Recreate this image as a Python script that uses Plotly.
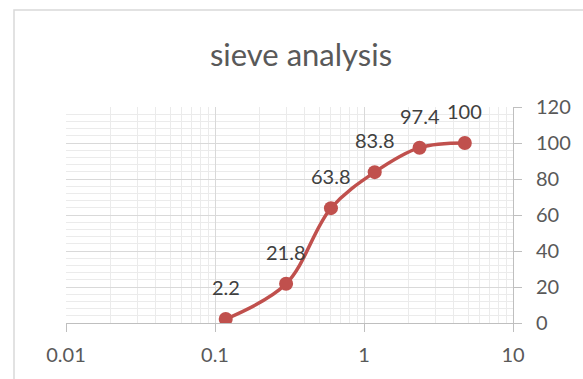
import math
import plotly.graph_objects as go

# Sieve analysis: particle size (mm) vs. percent passing
sieve_size_mm = [0.118, 0.3, 0.6, 1.18, 2.36, 4.75]
percent_passing = [2.2, 21.8, 63.8, 83.8, 97.4, 100]

x_tick_vals = [0.01, 0.1, 1, 10]
x_tick_text = ["0.01", "0.1", "1", "10"]
y_tick_vals = [0, 20, 40, 60, 80, 100, 120]

LINE_RED = "#C0504D"
TEXT_GRAY = "#595959"
FONT = "Lato, 'Open Sans', sans-serif"

fig = go.Figure()
fig.add_trace(go.Scatter(
    x=sieve_size_mm,
    y=percent_passing,
    mode="lines+markers",
    line=dict(color=LINE_RED, width=3.5, shape="spline", smoothing=1.0),
    marker=dict(color=LINE_RED, size=14),
    hoverinfo="x+y",
    showlegend=False,
))

# value labels above each point (annotations on a log axis take log10 x)
for xv, yv in zip(sieve_size_mm, percent_passing):
    fig.add_annotation(
        x=math.log10(xv), y=yv, xref="x", yref="y",
        text=f"{yv:g}", showarrow=False,
        yshift=32,
        font=dict(family=FONT, size=20, color="#404040"),
    )

fig.update_layout(
    width=583, height=379,
    margin=dict(l=66, r=70, t=107, b=56),
    paper_bgcolor="white",
    plot_bgcolor="white",
    font=dict(family=FONT, color=TEXT_GRAY),
    title=dict(
        text="sieve analysis",
        x=301 / 583, xref="container", xanchor="center",
        y=1 - 55 / 379, yref="container", yanchor="middle",
        font=dict(family=FONT, size=31, color=TEXT_GRAY),
    ),
    xaxis=dict(
        type="log",
        range=[-2, 1],
        tickvals=x_tick_vals,
        ticktext=x_tick_text,
        tickfont=dict(size=20, color=TEXT_GRAY),
        ticks="outside", ticklen=8, tickcolor="#BFBFBF",
        ticklabelstandoff=6,
        showline=True, linecolor="#BFBFBF", linewidth=1,
        showgrid=True, gridcolor="#D9D9D9", gridwidth=1,
        minor=dict(dtick="D1", showgrid=True, gridcolor="#EBEBEB",
                   gridwidth=1, ticks=""),
        zeroline=False,
        fixedrange=True,
    ),
    yaxis=dict(
        side="right",
        range=[0, 120],
        tickvals=y_tick_vals,
        tickfont=dict(size=20, color=TEXT_GRAY),
        ticks="outside", ticklen=8, tickcolor="#BFBFBF",
        ticklabelstandoff=10,
        showline=True, linecolor="#BFBFBF", linewidth=1,
        showgrid=True, gridcolor="#D9D9D9", gridwidth=1,
        minor=dict(dtick=4, showgrid=True, gridcolor="#EBEBEB",
                   gridwidth=1, ticks=""),
        zeroline=False,
        fixedrange=True,
    ),
)

# chart-area frame
fig.add_shape(
    type="rect", xref="paper", yref="paper",
    x0=(14 - 66) / 447, x1=1.6, y0=-0.6, y1=1 + (107 - 10) / 216,
    line=dict(color="#D9D9D9", width=1.5),
    fillcolor="rgba(0,0,0,0)", layer="below",
)

fig.write_html("out.html")
